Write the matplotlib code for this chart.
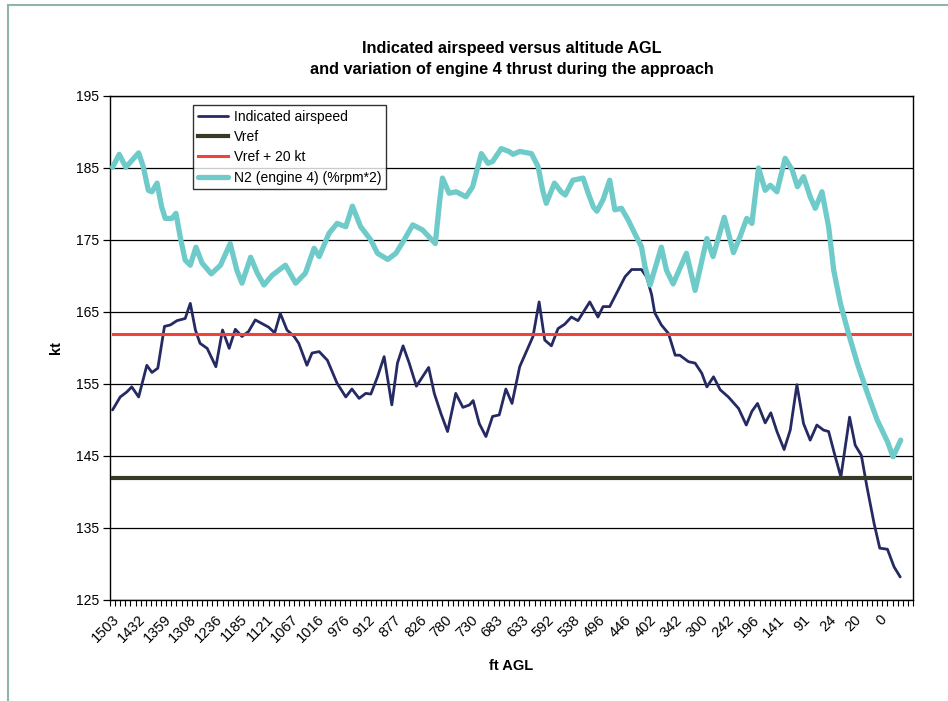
import matplotlib
matplotlib.use("Agg")
import matplotlib.pyplot as plt
from matplotlib.lines import Line2D
from matplotlib.ticker import FixedLocator, NullFormatter

plt.rcParams['font.family'] = ['Liberation Sans', 'DejaVu Sans']

# ---------------- data ----------------
n_categories = 157
altitude_labels = ["1503", "1432", "1359", "1308", "1236", "1185", "1121", "1067",
                   "1016", "976", "912", "877", "826", "780", "730", "683", "633",
                   "592", "538", "496", "446", "402", "342", "300", "242", "196",
                   "141", "91", "24", "20", "0"]
label_step = 5

ias_x = [0, 1.5, 2.8, 3.75, 5.1, 6.7, 7.7, 8.85, 10.15, 11.3, 12.6, 14.2, 15.2, 16.2,
         17.1, 18.5, 20.2, 21.5, 22.8, 24.0, 25.3, 26.6, 27.9, 29.2, 30.5, 31.7, 32.8,
         34.1, 35.5, 36.4, 38.0, 39.0, 40.4, 42.0, 43.9, 45.6, 46.8, 48.2, 49.5, 50.5,
         51.8, 53.1, 54.6, 55.7, 56.8, 58.0, 59.4, 60.6, 61.8, 62.9, 64.2, 65.5, 67.1,
         68.5, 69.8, 70.5, 71.7, 73.0, 74.3, 75.6, 76.9, 78.1, 79.6, 80.9, 82.2, 83.4,
         84.5, 85.8, 87.1, 88.4, 89.7, 91.0, 93.3, 94.9, 95.9, 97.2, 98.9, 100.2,
         101.5, 103.4, 104.4, 105.4, 106.0, 107.3, 108.7, 110.0, 110.9, 112.6, 113.9,
         115.2, 116.2, 117.5, 118.8, 120.4, 122.4, 123.9, 125.0, 126.1, 127.6, 128.7,
         129.9, 131.3, 132.5, 133.8, 135.1, 136.4, 137.7, 139.0, 140.0, 141.3, 142.4,
         144.1, 145.2, 146.4, 147.5, 148.9, 150.0, 151.5, 152.8, 154.0]
ias_kt = [151.4, 153.2, 153.9, 154.6, 153.2, 157.6, 156.6, 157.2, 163.0, 163.2, 163.8,
          164.1, 166.2, 162.5, 160.65, 159.95, 157.4, 162.5, 159.95, 162.6, 161.6, 162.3,
          163.9, 163.4, 162.9, 162.1, 164.8, 162.5, 161.6, 160.65, 157.6, 159.3, 159.5,
          158.3, 155.1, 153.2, 154.3, 153.0, 153.7, 153.6, 156.0, 158.8, 152.1, 157.9,
          160.3, 157.9, 154.7, 156.0, 157.3, 153.7, 150.9, 148.4, 153.7, 151.75, 152.1,
          152.7, 149.5, 147.7, 150.5, 150.7, 154.3, 152.3, 157.4, 159.5, 161.6, 166.4,
          161.1, 160.3, 162.7, 163.3, 164.3, 163.8, 166.4, 164.3, 165.75, 165.75, 168.1,
          169.9, 170.9, 170.9, 169.9, 167.4, 164.9, 163.2, 162.0, 159.0, 159.0, 158.1,
          157.9, 156.5, 154.6, 156.0, 154.2, 153.2, 151.6, 149.3, 151.2, 152.3, 149.6,
          151.0, 148.4, 145.9, 148.6, 154.9, 149.5, 147.2, 149.3, 148.6, 148.4, 144.9,
          142.1, 150.4, 146.5, 145.1, 140.7, 135.6, 132.2, 132.05, 129.6, 128.2]

n2_x = [0, 1.3, 2.6, 5.1, 6.0, 7.0, 7.7, 8.7, 9.6, 10.3, 11.6, 12.4, 13.2, 14.2, 15.2,
        16.3, 17.5, 19.3, 21.1, 23.0, 24.3, 25.3, 27.0, 28.3, 29.6, 31.2, 33.8, 35.8,
        37.7, 39.4, 40.4, 42.3, 43.9, 45.6, 46.9, 48.5, 50.5, 51.8, 53.8, 55.4, 57.0,
        58.7, 60.6, 63.1, 63.9, 64.5, 65.8, 67.2, 69.1, 70.4, 72.1, 73.4, 74.3, 76.0,
        77.5, 78.3, 79.6, 81.9, 83.2, 84.1, 84.8, 86.4, 87.7, 88.5, 90.0, 92.0, 93.0,
        94.0, 94.7, 95.9, 97.2, 98.2, 99.5, 100.8, 102.1, 103.4, 104.1, 105.1, 107.3,
        108.3, 109.6, 112.2, 113.9, 116.2, 117.4, 119.6, 121.4, 122.7, 124.0, 125.0,
        126.3, 127.6, 128.6, 129.9, 131.5, 132.9, 133.9, 135.1, 136.4, 137.4, 138.7,
        140.0, 141.0, 142.3, 143.9, 145.6, 147.6, 149.5, 151.5, 152.6, 154.1]
n2_val = [185.1, 186.9, 185.1, 187.1, 185.2, 181.9, 181.7, 182.9, 179.6, 178.0, 178.0,
          178.7, 175.5, 172.2, 171.5, 174.0, 171.8, 170.3, 171.5, 174.5, 170.8, 169.0,
          172.6, 170.4, 168.75, 170.1, 171.5, 169.0, 170.4, 173.85, 172.7, 175.9, 177.3,
          176.85, 179.7, 176.85, 175.0, 173.15, 172.3, 173.15, 175.0, 177.1, 176.4, 174.5,
          180.1, 183.6, 181.5, 181.7, 181.0, 182.4, 187.0, 185.65, 185.9, 187.7, 187.3,
          186.9, 187.3, 187.0, 185.2, 181.9, 180.1, 182.9, 181.7, 181.25, 183.3, 183.6,
          181.5, 179.6, 179.0, 180.6, 183.3, 179.2, 179.4, 177.8, 175.9, 174.1, 171.3,
          168.75, 174.0, 170.8, 168.9, 173.15, 168.0, 175.2, 172.7, 178.15, 173.25, 175.5,
          178.0, 177.3, 185.0, 181.9, 182.6, 181.7, 186.35, 184.7, 182.4, 183.8, 181.0,
          179.4, 181.7, 176.85, 170.8, 166.2, 162.0, 157.9, 153.7, 150.0, 147.0, 144.9,
          147.2]

vref = 142
vref20 = 162
y_ticks = [125, 135, 145, 155, 165, 175, 185, 195]

# ---------------- figure ----------------
fig = plt.figure(figsize=(9.48, 7.01), dpi=100)
fig.patch.set_facecolor('white')
W, H = 948, 701
ax = fig.add_axes([110 / W, 1 - 600 / H, 803 / W, 504 / H])

first, last = 0, n_categories - 1
ax.plot(ias_x, ias_kt, color='#262a63', lw=2.0, solid_joinstyle='round',
        solid_capstyle='round', label='Indicated airspeed', zorder=3)
ax.plot([first, last], [vref, vref], color='#363a26', lw=3.0,
        label='Vref', zorder=3)
ax.plot([first, last], [vref20, vref20], color='#f0433a', lw=2.2,
        label='Vref + 20 kt', zorder=3)
ax.plot(n2_x, n2_val, color='#6fcbc9', lw=3.8, solid_joinstyle='round',
        solid_capstyle='round', label='N2 (engine 4) (%rpm*2)', zorder=4)

ax.set_xlim(-0.5, n_categories - 0.5)
ax.set_ylim(125, 195)
ax.set_yticks(y_ticks)
ax.set_yticklabels([str(v) for v in y_ticks], fontsize=10)
ax.yaxis.grid(True, color='black', lw=0.9)
ax.set_axisbelow(True)
ax.tick_params(axis='y', direction='out', length=5, width=0.9, pad=3)

major_pos = list(range(0, len(altitude_labels) * label_step, label_step))
ax.set_xticks(major_pos)
ax.set_xticklabels(altitude_labels, rotation=45, ha='right', va='top',
                   rotation_mode='anchor', fontsize=10.5)
ax.tick_params(axis='x', which='major', length=0, pad=9)
ax.xaxis.set_minor_locator(FixedLocator([i - 0.5 for i in range(n_categories + 1)]))
ax.xaxis.set_minor_formatter(NullFormatter())
ax.tick_params(axis='x', which='minor', direction='out', length=4, width=0.8)

for s in ax.spines.values():
    s.set_color('black')
    s.set_linewidth(1.0)

ax.set_ylabel('kt', fontsize=10.5, fontweight='bold', labelpad=9)
ax.set_xlabel('ft AGL', fontsize=10.5, fontweight='bold', labelpad=10)

fig.text(512 / W, 1 - 59 / H,
         'Indicated airspeed versus altitude AGL\nand variation of engine 4 thrust during the approach',
         ha='center', va='center', fontsize=11.7, fontweight='bold', linespacing=1.5)

leg = ax.legend(loc='upper left', bbox_to_anchor=((193 - 110) / 803, 1 - (105 - 96) / 504),
                borderaxespad=0, frameon=True, fancybox=False, edgecolor='black',
                fontsize=10, handlelength=2.2, handletextpad=0.4, labelspacing=0.45,
                borderpad=0.35)
leg.get_frame().set_linewidth(1.0)

# outer greenish frame
fig.add_artist(Line2D([8 / W, 8 / W], [0, 1 - 5 / H], color='#8fb5a6', lw=1.5,
                      transform=fig.transFigure))
fig.add_artist(Line2D([8 / W, 1], [1 - 5 / H, 1 - 5 / H], color='#8fb5a6', lw=1.5,
                      transform=fig.transFigure))

fig.savefig('out.png', dpi=100)
